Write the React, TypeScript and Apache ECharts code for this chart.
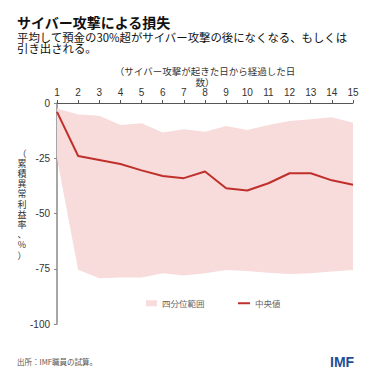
import React, { useEffect, useRef } from "react";
import * as echarts from "echarts";

const days = ["1", "2", "3", "4", "5", "6", "7", "8", "9", "10", "11", "12", "13", "14", "15"];
const median = [-4, -24, -25.8, -27.6, -30.5, -33, -34, -31, -38.6, -39.6, -36.3, -31.8, -31.8, -35, -37];
const upperQ = [-2.5, -5.2, -5.8, -10, -9.2, -13.4, -11.9, -13, -10.4, -12.2, -10, -8.2, -7.4, -6.5, -8.9];
const lowerQ = [-25, -75.5, -79.3, -79, -79, -77, -78, -77, -75.6, -76, -76.8, -77.4, -77, -76.3, -75.6];
const yTicks = { min: -100, max: 0, interval: 25 };

const title = "サイバー攻撃による損失";
const subtitleLines = ["平均して預金の30%超がサイバー攻撃の後になくなる、もしくは", "引き出される。"];
const xName = "（サイバー攻撃が起きた日から経過した日\n数）";
const yName = "（累積異常利益率、%）";
const source = "出所：IMF職員の試算。";

const PINK = "#f8dbdb";
const RED = "#c0302b";
const CJK = "'Noto Sans CJK JP', 'Noto Sans', sans-serif";
const NUM = "'Liberation Sans', Arial, sans-serif";

export default function App() {
  const ref = useRef<HTMLDivElement>(null);
  useEffect(() => {
    if (!ref.current) return;
    const chart = echarts.init(ref.current, null, { renderer: "svg" });
    const range = upperQ.map((u, i) => u - lowerQ[i]);
    const legendText = { color: "#666", fontSize: 8.5, fontFamily: CJK };
    const yNameChars = yName.split("").map((ch, i) => ({
      type: "text",
      x: 22,
      y: 153 + i * 10.2,
      style: {
        text: ch,
        fontSize: 9,
        fill: "#333",
        align: "center",
        verticalAlign: "middle",
        fontFamily: CJK,
      },
    }));
    const subtitleTexts = subtitleLines.map((line, i) => ({
      type: "text",
      left: 17,
      top: 31 + i * 11.5,
      style: { text: line, fontSize: 11.4, fill: "#111", fontFamily: CJK },
    }));
    chart.setOption({
      animation: false,
      backgroundColor: "#fff",
      grid: { left: 57, right: 26, top: 103, bottom: 55 },
      xAxis: {
        type: "category",
        data: days,
        position: "top",
        boundaryGap: false,
        axisLine: { show: true, lineStyle: { color: "#555", width: 1 } },
        axisTick: { show: true, length: 3, lineStyle: { color: "#555" } },
        axisLabel: { color: "#333", fontSize: 10, fontFamily: NUM, margin: 6 },
        splitLine: { show: false },
      },
      yAxis: {
        type: "value",
        min: yTicks.min,
        max: yTicks.max,
        interval: yTicks.interval,
        axisLine: { show: true, lineStyle: { color: "#888", width: 1.5 } },
        axisTick: { show: true, length: 3, lineStyle: { color: "#888" } },
        axisLabel: { color: "#333", fontSize: 10, fontFamily: NUM, margin: 7 },
        splitLine: { show: false },
      },
      legend: [
        {
          data: [{ name: "四分位範囲", icon: "rect", itemStyle: { color: PINK } }],
          left: 141,
          top: 294,
          itemWidth: 11,
          itemHeight: 6,
          textStyle: legendText,
        },
        {
          data: [{ name: "中央値", icon: "rect", itemStyle: { color: RED } }],
          left: 233,
          top: 294,
          itemWidth: 12,
          itemHeight: 2,
          textStyle: legendText,
        },
      ],
      series: [
        {
          name: "lower",
          type: "line",
          data: lowerQ,
          stack: "band",
          stackStrategy: "all",
          symbol: "none",
          lineStyle: { opacity: 0 },
          silent: true,
        },
        {
          name: "四分位範囲",
          type: "line",
          data: range,
          stack: "band",
          stackStrategy: "all",
          symbol: "none",
          lineStyle: { opacity: 0 },
          areaStyle: { color: PINK, opacity: 1 },
          itemStyle: { color: PINK },
          silent: true,
        },
        {
          name: "中央値",
          type: "line",
          data: median,
          symbol: "none",
          lineStyle: { color: RED, width: 2 },
          itemStyle: { color: RED },
          z: 5,
        },
      ],
      graphic: [
        {
          type: "text",
          left: 17,
          top: 15,
          style: { text: title, fontSize: 14, fontWeight: "bold", fill: "#111", fontFamily: CJK },
        },
        ...subtitleTexts,
        {
          type: "text",
          x: 205,
          y: 65,
          style: {
            text: xName,
            fontSize: 9.5,
            lineHeight: 11,
            fill: "#333",
            align: "center",
            verticalAlign: "top",
            fontFamily: CJK,
          },
        },
        ...yNameChars,
        {
          type: "text",
          left: 17,
          top: 358,
          style: { text: source, fontSize: 7.5, fill: "#555", fontFamily: CJK },
        },
        {
          type: "text",
          left: 330,
          top: 355,
          style: { text: "IMF", fontSize: 14, fontWeight: "bold", fill: "#1f4e96", fontFamily: NUM },
        },
      ],
    });
    return () => chart.dispose();
  }, []);
  return <div ref={ref} style={{ position: "absolute", left: 0, top: 0, width: 379, height: 379 }} />;
}
